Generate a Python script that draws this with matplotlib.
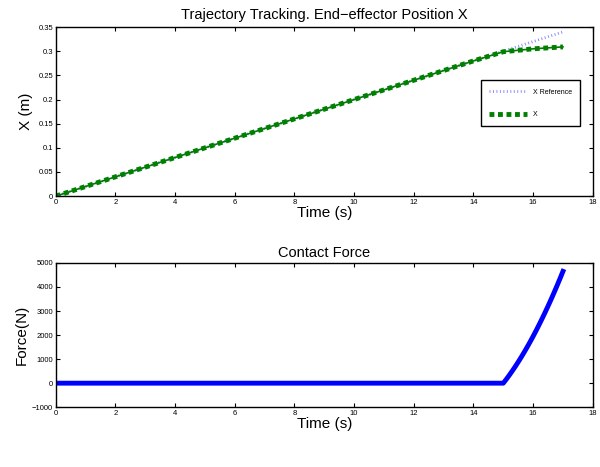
import numpy as np
import matplotlib
matplotlib.use("Agg")
import matplotlib.pyplot as plt
from matplotlib.ticker import FormatStrFormatter

plt.rcParams['font.family'] = ['Liberation Sans', 'DejaVu Sans']

# position data
t_pos = [0, 1, 2, 3, 4, 5, 6, 7, 8, 9, 10, 11, 12, 13, 14, 15, 15.5, 16, 16.5, 17]
x_ref = [0, 0.02, 0.04, 0.06, 0.08, 0.10, 0.12, 0.14, 0.16, 0.18, 0.20,
         0.22, 0.24, 0.26, 0.28, 0.30, 0.31, 0.32, 0.33, 0.34]
x_act = [0, 0.02, 0.04, 0.06, 0.08, 0.10, 0.12, 0.14, 0.16, 0.18, 0.20,
         0.22, 0.24, 0.26, 0.28, 0.299, 0.302, 0.305, 0.307, 0.309]

# contact force data
t_force = [0, 5, 10, 14, 15, 15.1, 15.2, 15.3, 15.4, 15.5, 15.6, 15.7, 15.8,
           15.9, 16, 16.1, 16.2, 16.3, 16.4, 16.5, 16.6, 16.7, 16.8, 16.9, 17]
force = [0, 0, 0, 0, 0, 161, 330, 506, 690, 881, 1080, 1286, 1500,
         1721, 1950, 2186, 2430, 2681, 2940, 3206, 3480, 3761, 4050, 4346, 4650]


def style(ax):
    ax.tick_params(direction='in', top=True, right=True, labelsize=5.5,
                   length=3, width=0.8, pad=2)
    for s in ax.spines.values():
        s.set_linewidth(1.0)


def main():
    fig = plt.figure(figsize=(6, 4.67), dpi=100)

    # top: trajectory tracking
    ax1 = fig.add_axes([0.093, 0.580, 0.895, 0.362])
    ax1.plot(t_pos, x_ref, color='#8c8cff', linewidth=2.0,
             dashes=(0.35, 0.9), label='X Reference')
    ax1.plot(t_pos, x_act, color='#007a00', linewidth=1.2)
    ax1.plot(t_pos, x_act, color='#008000', linewidth=3.5,
             dashes=(1, 0.75), label='X')
    ax1.set_xlim(0, 18)
    ax1.set_ylim(0, 0.35)
    ax1.set_xticks(np.arange(0, 19, 2))
    ax1.set_yticks(np.arange(0, 0.351, 0.05))
    ax1.yaxis.set_major_formatter(FormatStrFormatter('%g'))
    ax1.set_title('Trajectory Tracking. End\u2212effector Position X',
                  fontsize=10.5, pad=6)
    ax1.set_xlabel('Time (s)', fontsize=11, labelpad=0)
    ax1.set_ylabel('X (m)', fontsize=11, labelpad=4)
    style(ax1)
    leg = ax1.legend(loc='upper right', bbox_to_anchor=(0.983, 0.705),
                     fontsize=5, handlelength=5.5, labelspacing=2.2,
                     borderpad=1.2, fancybox=False, framealpha=1)
    leg.get_frame().set_edgecolor('black')
    leg.get_frame().set_linewidth(1.0)

    # bottom: contact force
    ax2 = fig.add_axes([0.093, 0.128, 0.895, 0.309])
    ax2.plot(t_force, force, color='#0000ff', linewidth=3.5)
    ax2.set_xlim(0, 18)
    ax2.set_ylim(-1000, 5000)
    ax2.set_xticks(np.arange(0, 19, 2))
    ax2.set_yticks(np.arange(-1000, 5001, 1000))
    ax2.set_title('Contact Force', fontsize=10.5, pad=4)
    ax2.set_xlabel('Time (s)', fontsize=11, labelpad=0)
    ax2.set_ylabel('Force(N)', fontsize=11, labelpad=2)
    style(ax2)

    fig.savefig('out.png', dpi=100)


if __name__ == '__main__':
    main()
